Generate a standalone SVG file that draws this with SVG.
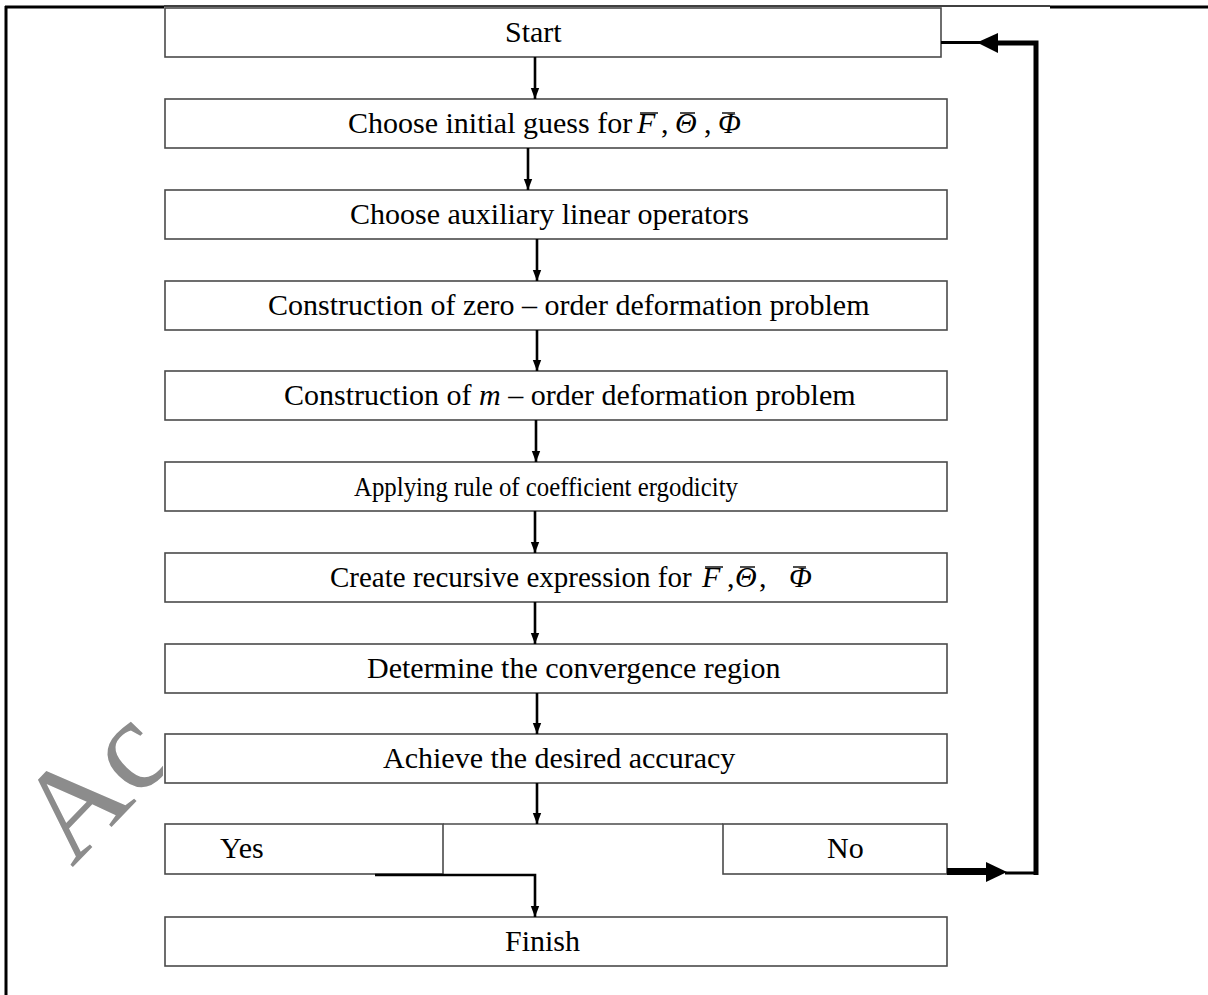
<svg xmlns="http://www.w3.org/2000/svg" width="1208" height="995" viewBox="0 0 1208 995">
<style>
.box{fill:#fff;stroke:#4a4a4a;stroke-width:1.6}
.t{font-family:"Liberation Serif","Times New Roman",serif;font-size:30px;fill:#000}
.i{font-style:italic}
.ln{stroke:#000;stroke-width:2.6;fill:none}
.bar{stroke:#000;stroke-width:1.4}
.frame{stroke:#000;fill:none}
</style>
<defs>
<marker id="ah" markerUnits="userSpaceOnUse" markerWidth="10" markerHeight="11" refX="11" refY="5" orient="auto">
<path d="M0,0.8 L11,5 L0,9.2 z" fill="#000"/>
</marker>
<clipPath id="wmclip"><rect x="0" y="0" width="163" height="995"/></clipPath>
</defs>
<rect width="1208" height="995" fill="#fff"/>
<g id="watermark" clip-path="url(#wmclip)">
<text x="0" y="0" transform="translate(72,868) rotate(-46)" style="font-family:'Liberation Serif',serif;font-size:130px;fill:#8c8c8c">Ac</text>
</g>
<g id="frame">
<line class="frame" x1="6" y1="6" x2="6" y2="995" stroke-width="3"/>
<line class="frame" x1="5" y1="7" x2="164" y2="7" stroke-width="3"/>
<line class="frame" x1="164" y1="6" x2="1050" y2="6" stroke-width="1.5"/>
<line class="frame" x1="1050" y1="7" x2="1208" y2="7" stroke-width="3"/>
</g>
<g id="n-start"><rect class="box" x="165" y="8" width="776" height="49"/><text class="t" x="505" y="42">Start</text></g>
<g id="n-guess"><rect class="box" x="165" y="99" width="782" height="49"/>
<text class="t" x="348" y="133">Choose initial guess for</text>
<text class="t i" x="637" y="133">F</text><text class="t" x="661" y="133">,</text>
<text class="t i" x="675" y="133">Θ</text><text class="t" x="704" y="133">,</text>
<text class="t i" x="718" y="133">Φ</text>
<line class="bar" x1="640" y1="113" x2="658" y2="113"/><line class="bar" x1="680" y1="113" x2="695" y2="113"/><line class="bar" x1="722" y1="113" x2="735" y2="113"/>
</g>
<g id="n-aux"><rect class="box" x="165" y="190" width="782" height="49"/><text class="t" x="350" y="224">Choose auxiliary linear operators</text></g>
<g id="n-zero"><rect class="box" x="165" y="281" width="782" height="49"/><text class="t" x="268" y="315">Construction of  zero – order deformation problem</text></g>
<g id="n-morder"><rect class="box" x="165" y="371" width="782" height="49"/><text class="t" x="284" y="405">Construction of <tspan class="i">m</tspan> – order deformation problem</text></g>
<g id="n-apply"><rect class="box" x="165" y="462" width="782" height="49"/><text class="t" x="354" y="496" style="font-size:28px" textLength="384" lengthAdjust="spacingAndGlyphs">Applying rule of  coefficient ergodicity</text></g>
<g id="n-recur"><rect class="box" x="165" y="553" width="782" height="49"/>
<text class="t" x="330" y="587" style="font-size:29px">Create recursive expression for</text>
<text class="t i" x="702" y="587">F</text><text class="t" x="727" y="587">,</text>
<text class="t i" x="735" y="587">Θ</text><text class="t" x="759" y="587">,</text>
<text class="t i" x="789" y="587">Φ</text>
<line class="bar" x1="705" y1="567" x2="723" y2="567"/><line class="bar" x1="740" y1="567" x2="755" y2="567"/><line class="bar" x1="793" y1="567" x2="806" y2="567"/>
</g>
<g id="n-conv"><rect class="box" x="165" y="644" width="782" height="49"/><text class="t" x="367" y="678">Determine the convergence region</text></g>
<g id="n-acc"><rect class="box" x="165" y="734" width="782" height="49"/><text class="t" x="383" y="768">Achieve the desired accuracy</text></g>
<g id="n-decision">
<line x1="443" y1="824" x2="723" y2="824" stroke="#4a4a4a" stroke-width="1.6"/>
</g>
<g id="n-yes"><rect class="box" x="165" y="824" width="278" height="50"/><text class="t" x="220" y="858">Yes</text></g>
<g id="n-no"><rect class="box" x="723" y="824" width="224" height="50"/><text class="t" x="827" y="858">No</text></g>
<g id="n-finish"><rect class="box" x="165" y="917" width="782" height="49"/><text class="t" x="505" y="951">Finish</text></g>
<g id="connectors">
<line class="ln" x1="535" y1="57" x2="535" y2="99" marker-end="url(#ah)"/>
<line class="ln" x1="528" y1="148" x2="528" y2="190" marker-end="url(#ah)"/>
<line class="ln" x1="537" y1="239" x2="537" y2="281" marker-end="url(#ah)"/>
<line class="ln" x1="537" y1="330" x2="537" y2="371" marker-end="url(#ah)"/>
<line class="ln" x1="536" y1="420" x2="536" y2="462" marker-end="url(#ah)"/>
<line class="ln" x1="535" y1="511" x2="535" y2="553" marker-end="url(#ah)"/>
<line class="ln" x1="535" y1="602" x2="535" y2="644" marker-end="url(#ah)"/>
<line class="ln" x1="537" y1="693" x2="537" y2="734" marker-end="url(#ah)"/>
<line class="ln" x1="537" y1="783" x2="537" y2="824" marker-end="url(#ah)"/>
<polyline class="ln" points="375,875 535,875 535,917" marker-end="url(#ah)"/>
<line x1="947" y1="871.5" x2="990" y2="871.5" stroke="#000" stroke-width="7"/>
<polygon points="986,862 1007,872 986,882" fill="#000"/>
<line x1="1005" y1="873" x2="1038" y2="873" stroke="#000" stroke-width="3"/>
<polyline points="997,43 1036,43 1036,875" fill="none" stroke="#000" stroke-width="5"/>
<polygon points="977,42.5 998,33 998,53" fill="#000"/>
<line x1="941" y1="42.5" x2="985" y2="42.5" stroke="#000" stroke-width="3"/>
</g>
</svg>
